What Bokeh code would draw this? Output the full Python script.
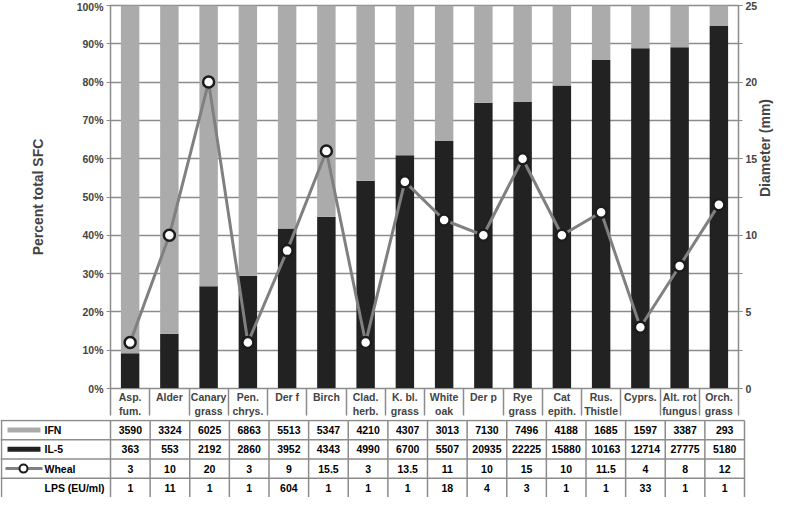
import math
from bokeh.plotting import figure
from bokeh.models import Range1d, LinearAxis, FixedTicker, NumeralTickFormatter, ColumnDataSource
from bokeh.embed import file_html
from bokeh.resources import INLINE
from bokeh.core.properties import value

# ---------------- data ----------------
categories = ["Asp.\nfum.", "Alder", "Canary\ngrass", "Pen.\nchrys.", "Der f", "Birch",
              "Clad.\nherb.", "K. bl.\ngrass", "White\noak", "Der p", "Rye\ngrass",
              "Cat\nepith.", "Rus.\nThistle", "Cyprs.", "Alt. rot\nfungus", "Orch.\ngrass"]
ifn = [3590, 3324, 6025, 6863, 5513, 5347, 4210, 4307, 3013, 7130, 7496, 4188, 1685, 1597, 3387, 293]
il5 = [363, 553, 2192, 2860, 3952, 4343, 4990, 6700, 5507, 20935, 22225, 15880, 10163, 12714, 27775, 5180]
wheal = [3, 10, 20, 3, 9, 15.5, 3, 13.5, 11, 10, 15, 10, 11.5, 4, 8, 12]
lps = [1, 11, 1, 1, 604, 1, 1, 1, 18, 4, 3, 1, 1, 33, 1, 1]
row_labels = ["IFN", "IL-5", "Wheal", "LPS (EU/ml)"]
pct_ticks = [0, 10, 20, 30, 40, 50, 60, 70, 80, 90, 100]
diam_ticks = [0, 5, 10, 15, 20, 25]
diam_minor = [0, 2.5, 5, 7.5, 10, 12.5, 15, 17.5, 20, 22.5, 25]

# ---------------- styles ----------------
FONT = "Liberation Sans"
C_IFN = "#ababab"
C_IL5 = "#222222"
C_LINE = "#808080"
C_GRID = "#8c8c8c"

W = 784
LB, RB = 110, 40
FW = W - LB - RB
N = len(categories)
u = FW / N
xc = [i + 0.5 for i in range(N)]
frac = [b / (a + b) for a, b in zip(ifn, il5)]

TOP, FH, CATH = 5, 387, 27
TH = 78

# ---------------- chart ----------------
p = figure(width=W, height=TOP + FH + CATH, x_range=Range1d(0, N), y_range=Range1d(0, 1),
           output_backend="svg", toolbar_location=None,
           min_border_left=LB, min_border_right=RB, min_border_top=TOP, min_border_bottom=CATH)
p.outline_line_color = C_GRID
p.outline_line_width = 1.5
p.xgrid.visible = False
p.ygrid.ticker = FixedTicker(ticks=[t / 100 for t in pct_ticks])
p.ygrid.grid_line_color = C_GRID
p.ygrid.grid_line_width = 1.3

src = ColumnDataSource(dict(x=xc, f=frac, one=[1] * N, w=wheal))
p.vbar(x='x', bottom=0, top='f', width=0.47, fill_color=C_IL5, line_color=None, source=src)
p.vbar(x='x', bottom='f', top='one', width=0.47, fill_color=C_IFN, line_color=None, source=src)

p.extra_y_ranges = {"d": Range1d(0, 25)}
p.line('x', 'w', y_range_name="d", line_color=C_LINE, line_width=3, source=src)
p.scatter('x', 'w', y_range_name="d", size=11, fill_color="white", line_color="#1c1c1c",
          line_width=2.5, source=src)

ya = p.yaxis[0]
ya.ticker = FixedTicker(ticks=[t / 100 for t in pct_ticks])
ya.formatter = NumeralTickFormatter(format="0%")
ya.axis_label = "Percent total SFC"
ya.axis_label_text_font = FONT
ya.axis_label_text_font_style = "bold"
ya.axis_label_text_font_size = "14px"
ya.axis_label_standoff = 28
ya.major_label_text_font = FONT
ya.major_label_text_font_style = "bold"
ya.major_label_text_font_size = "10.5px"
ya.major_label_standoff = 3
ya.major_tick_out = 4
ya.major_tick_in = 0
ya.axis_line_color = C_GRID
ya.major_tick_line_color = C_GRID

ra = LinearAxis(y_range_name="d", ticker=FixedTicker(ticks=diam_ticks, minor_ticks=diam_minor),
                axis_label="Diameter (mm)")
if hasattr(ra, "axis_label_orientation"):
    ra.axis_label_orientation = math.pi / 2
ra.axis_label_text_font = FONT
ra.axis_label_text_font_style = "bold"
ra.axis_label_text_font_size = "14px"
ra.axis_label_standoff = 5
ra.major_label_text_font = FONT
ra.major_label_text_font_style = "bold"
ra.major_label_text_font_size = "10.5px"
ra.major_label_standoff = 3
ra.major_tick_out = 4
ra.major_tick_in = 0
ra.minor_tick_out = 4
ra.minor_tick_in = 0
ra.axis_line_color = C_GRID
ra.major_tick_line_color = C_GRID
ra.minor_tick_line_color = C_GRID
p.add_layout(ra, "right")

xa = p.xaxis[0]
xa.ticker = FixedTicker(ticks=xc, minor_ticks=list(range(N + 1)))
xa.major_label_overrides = {xc[i]: categories[i] for i in range(N)}
xa.major_label_text_font = FONT
xa.major_label_text_font_style = "bold"
xa.major_label_text_font_size = "10.5px"
xa.major_label_standoff = -25
xa.major_tick_out = 0
xa.major_tick_in = 0
xa.minor_tick_out = CATH
xa.minor_tick_in = 0
xa.minor_tick_line_color = C_GRID
xa.minor_tick_line_width = 1.5
xa.axis_line_color = C_GRID

# ---------------- table ----------------
x0 = -LB / u
nrows = len(row_labels)
t = figure(width=W, height=TH, x_range=Range1d(x0, N + RB / u), y_range=Range1d(0, nrows + 0.05),
           output_backend="svg", toolbar_location=None, min_border=0,
           x_axis_location=None, y_axis_location=None)
t.grid.visible = False
t.outline_line_color = None

t.segment(x0=[x0] * nrows, x1=[N] * nrows, y0=list(range(1, nrows + 1)), y1=list(range(1, nrows + 1)),
          line_color=C_GRID, line_width=1.5)
t.segment(x0=list(range(N + 1)) + [x0 + 1 / u], x1=list(range(N + 1)) + [x0 + 1 / u],
          y0=[0] * (N + 2), y1=[nrows] * (N + 2), line_color=C_GRID, line_width=1.5)

row_vals = [ifn, il5, wheal, lps]
tx, ty, tt = [], [], []
for r, vals in enumerate(row_vals):
    yy = nrows - r - 0.5
    for i, v in enumerate(vals):
        tx.append(xc[i]); ty.append(yy); tt.append(f"{v:g}")
t.text(x=tx, y=ty, text=tt, text_align="center", text_baseline="middle",
       text_font=value(FONT), text_font_style="bold", text_font_size="10.5px", text_color="black")

def px(page_x):
    return x0 + page_x / u

ly = [nrows - r - 0.5 for r in range(nrows)]
t.text(x=[px(44)] * nrows, y=ly, text=row_labels, text_align="left", text_baseline="middle",
       text_font=value(FONT), text_font_style="bold", text_font_size="10.5px", text_color="black")
t.segment(x0=[px(7)], x1=[px(40)], y0=[ly[0]], y1=[ly[0]], line_color=C_IFN, line_width=5)
t.segment(x0=[px(7)], x1=[px(40)], y0=[ly[1]], y1=[ly[1]], line_color=C_IL5, line_width=5)
t.segment(x0=[px(5)], x1=[px(42)], y0=[ly[2]], y1=[ly[2]], line_color=C_LINE, line_width=3)
t.scatter(x=[px(23)], y=[ly[2]], size=8, fill_color="white", line_color="#1c1c1c", line_width=2)

open("out.html", "w").write(file_html([p, t], INLINE))
